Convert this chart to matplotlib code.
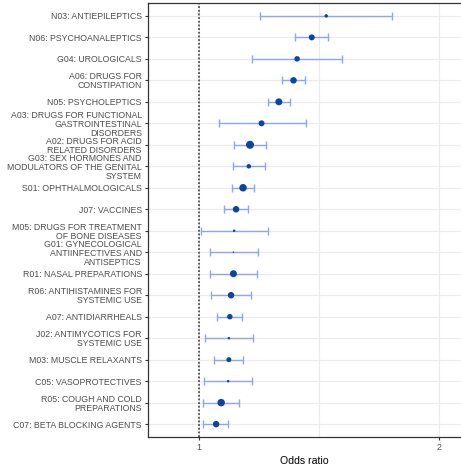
import matplotlib
matplotlib.use("Agg")
import matplotlib.pyplot as plt
from matplotlib.ticker import MultipleLocator

plt.rcParams["font.family"] = ["Liberation Sans", "DejaVu Sans"]

labels = [
    "N03: ANTIEPILEPTICS",
    "N06: PSYCHOANALEPTICS",
    "G04: UROLOGICALS",
    "A06: DRUGS FOR\nCONSTIPATION",
    "N05: PSYCHOLEPTICS",
    "A03: DRUGS FOR FUNCTIONAL\nGASTROINTESTINAL\nDISORDERS",
    "A02: DRUGS FOR ACID\nRELATED DISORDERS",
    "G03: SEX HORMONES AND\nMODULATORS OF THE GENITAL\nSYSTEM",
    "S01: OPHTHALMOLOGICALS",
    "J07: VACCINES",
    "M05: DRUGS FOR TREATMENT\nOF BONE DISEASES",
    "G01: GYNECOLOGICAL\nANTIINFECTIVES AND\nANTISEPTICS",
    "R01: NASAL PREPARATIONS",
    "R06: ANTIHISTAMINES FOR\nSYSTEMIC USE",
    "A07: ANTIDIARRHEALS",
    "J02: ANTIMYCOTICS FOR\nSYSTEMIC USE",
    "M03: MUSCLE RELAXANTS",
    "C05: VASOPROTECTIVES",
    "R05: COUGH AND COLD\nPREPARATIONS",
    "C07: BETA BLOCKING AGENTS",
]
odds = [1.529, 1.469, 1.408, 1.393, 1.332, 1.260, 1.212, 1.207, 1.183, 1.154,
        1.146, 1.143, 1.143, 1.133, 1.128, 1.124, 1.124, 1.121, 1.092, 1.071]
ci_low = [1.255, 1.401, 1.222, 1.346, 1.286, 1.082, 1.144, 1.142, 1.136, 1.103,
          1.008, 1.044, 1.046, 1.051, 1.075, 1.024, 1.064, 1.019, 1.018, 1.018]
ci_high = [1.804, 1.536, 1.596, 1.440, 1.379, 1.443, 1.280, 1.275, 1.230, 1.205,
           1.285, 1.245, 1.242, 1.217, 1.180, 1.224, 1.183, 1.221, 1.167, 1.122]
# marker diameter in px (reflects study weight)
dot_px = [3.5, 6, 5.5, 6.5, 7, 6, 8, 4.5, 7.5, 6.5,
          2.5, 1.5, 7, 6.5, 5.5, 2.5, 5, 2.5, 7.5, 6.5]

fig = plt.figure(figsize=(4.61, 4.67), dpi=100)
ax = fig.add_axes([148 / 461, 1 - 437 / 467, 1 - 148 / 461, 434 / 467])

ypos = list(range(len(labels)))
err = [[o - l for o, l in zip(odds, ci_low)], [h - o for o, h in zip(odds, ci_high)]]
ax.errorbar(odds, ypos, xerr=err, fmt="none", ecolor="#8ea4f6", elinewidth=1.0,
            capsize=2.9, capthick=1.0, zorder=3)
sizes = [(d / 1.389) ** 2 for d in dot_px]
ax.scatter(odds, ypos, s=sizes, color="#0a45a5", zorder=4, linewidths=0)

ax.axvline(1, color="#333333", ls=(0, (1.2, 1.2)), lw=1.1, zorder=2)

ax.set_xlim(0.7875, 2.09)
ax.set_ylim(len(labels) - 0.4, -0.6)
ax.set_yticks(ypos)
ax.set_yticklabels(labels, fontsize=6.3, color="#4d4d4d", linespacing=1.0)
ax.set_xticks([1, 2])
ax.set_xticklabels(["1", "2"], fontsize=6.3, color="#4d4d4d")
ax.xaxis.set_minor_locator(MultipleLocator(0.5))
ax.tick_params(axis="both", which="major", length=2.5, width=0.8, color="#333333", pad=2)
ax.tick_params(axis="x", which="minor", length=0)
ax.grid(True, which="both", color="#ebebeb", lw=0.8, zorder=0)
ax.set_axisbelow(True)
ax.set_xlabel("Odds ratio", fontsize=7.6, color="black", labelpad=3)

for s in ["left", "bottom", "top"]:
    ax.spines[s].set_color("#333333")
    ax.spines[s].set_linewidth(0.9)
ax.spines["right"].set_visible(False)

fig.savefig("out.png", dpi=100)
